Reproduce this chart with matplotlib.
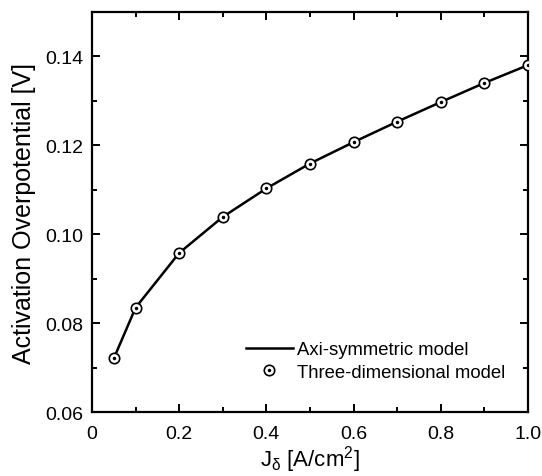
import matplotlib
matplotlib.use("Agg")
import matplotlib.pyplot as plt
from matplotlib.legend_handler import HandlerTuple
from matplotlib.ticker import MultipleLocator

plt.rcParams["font.family"] = ["Liberation Sans", "DejaVu Sans"]
plt.rcParams["mathtext.fontset"] = "custom"
plt.rcParams["mathtext.rm"] = "Liberation Sans"
plt.rcParams["mathtext.it"] = "Liberation Sans"

# current density [A/cm2]
current = [0.05, 0.1, 0.2, 0.3, 0.4, 0.5, 0.6, 0.7, 0.8, 0.9, 1.0]
# activation overpotential [V]
axi_model = [0.0721, 0.0835, 0.0958, 0.1039, 0.1103, 0.1159, 0.1207, 0.1253, 0.1297, 0.1340, 0.1380]
three_d_model = [0.0721, 0.0835, 0.0958, 0.1039, 0.1103, 0.1159, 0.1207, 0.1253, 0.1297, 0.1340, 0.1380]

x_ticks = [0, 0.2, 0.4, 0.6, 0.8, 1.0]
x_labels = ["0", "0.2", "0.4", "0.6", "0.8", "1.0"]
y_ticks = [0.06, 0.08, 0.10, 0.12, 0.14]
y_labels = ["0.06", "0.08", "0.10", "0.12", "0.14"]

fig = plt.figure(figsize=(5.42, 4.77), dpi=100)
ax = fig.add_axes([0.1697, 0.1335, 0.8044, 0.8398])

line, = ax.plot(current, axi_model, color="black", lw=1.8, zorder=2)
ring, = ax.plot(current, three_d_model, ls="none", marker="o", ms=7.5,
                mfc="white", mec="black", mew=1.2, zorder=3)
dot, = ax.plot(current, three_d_model, ls="none", marker="o", ms=1.5,
               color="black", zorder=4)

ax.set_xlim(0, 1.0)
ax.set_ylim(0.06, 0.15)
ax.xaxis.set_minor_locator(MultipleLocator(0.1))
ax.yaxis.set_minor_locator(MultipleLocator(0.01))
ax.set_xticks(x_ticks)
ax.set_xticklabels(x_labels)
ax.set_yticks(y_ticks)
ax.set_yticklabels(y_labels)

ax.tick_params(which="both", direction="in", top=True, right=True, width=1.4)
ax.tick_params(which="major", length=6, labelsize=14)
ax.tick_params(axis="x", which="major", pad=9)
ax.tick_params(axis="y", which="major", pad=6.5)
ax.tick_params(which="minor", length=3.6)
for s in ax.spines.values():
    s.set_linewidth(1.6)

ax.set_xlabel(r"J$_\delta$ [A/cm$^2$]", fontsize=16, labelpad=1)
ax.set_ylabel("Activation Overpotential [V]", fontsize=18, labelpad=6)

ax.legend([line, (ring, dot)], ["Axi-symmetric model", "Three-dimensional model"],
          handler_map={tuple: HandlerTuple(ndivide=1)},
          loc="upper left", bbox_to_anchor=(0.353, 0.178), frameon=False,
          fontsize=13.3, borderpad=0, borderaxespad=0,
          handlelength=2.55, handletextpad=0.22, labelspacing=0.32)

fig.savefig("out.png", dpi=100)
